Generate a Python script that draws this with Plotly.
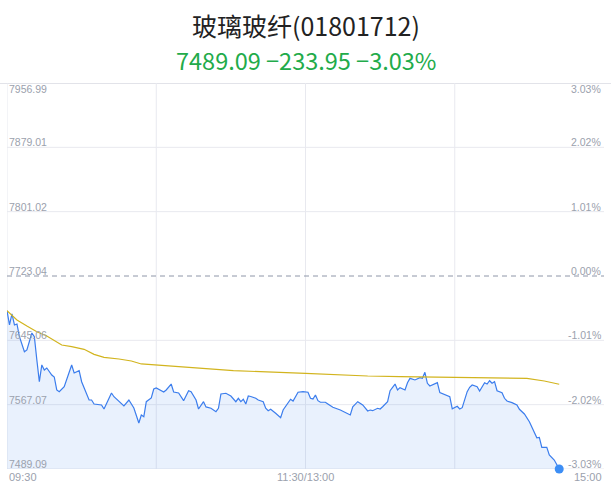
import plotly.graph_objects as go

# ---- data ----
title_text = "玻璃玻纤(01801712)"
subtitle_text = "7489.09 \u2212233.95 \u22123.03%"

prev_close = 7723.04
y_ticks = [7956.99, 7879.01, 7801.02, 7723.04, 7645.06, 7567.07, 7489.09]
pct_ticks = ["3.03%", "2.02%", "1.01%", "0.00%", "-1.01%", "-2.02%", "-3.03%"]
x_tick_pos = [0, 120, 240]
x_tick_labels = ["09:30", "11:30/13:00", "15:00"]

# minutes since 09:30 (lunch break removed)
price_min = [0, 1, 2, 3, 4, 5, 7, 8, 10, 11, 12, 13, 14, 15, 16, 18, 19, 20, 21, 23,
             26, 27, 29, 30, 33, 34, 35, 38, 39, 42, 43, 47, 49, 51, 53, 54, 55, 56, 58, 59,
             60, 63, 64, 66, 67, 69, 71, 73, 74, 76, 77, 79, 80, 82, 84, 85, 86, 88, 90, 92,
             93, 94, 95, 96, 97, 98, 100, 101, 103, 104, 105, 106, 108, 110, 111, 113, 114, 115, 117, 119,
             121, 122, 123, 124, 125, 126, 128, 129, 131, 134, 138, 139, 141, 143, 145, 146, 147, 149, 150, 151,
             153, 154, 156, 157, 158, 160, 161, 162, 164, 166, 167, 168, 169, 170, 173, 174, 177, 178, 179, 181,
             182, 183, 185, 186, 187, 189, 190, 192, 193, 194, 195, 196, 197, 199, 200, 201, 203, 205, 206, 208,
             210, 211, 213, 214, 215, 217, 218, 220, 222]
price_val = [7680.98, 7663.7, 7677.0, 7663.7, 7664.9, 7649.5, 7631.3, 7633.4, 7654.0, 7649.5,
             7621.2, 7594.9, 7615.2, 7609.1, 7611.5, 7603.0, 7600.6, 7584.9, 7582.8, 7588.9,
             7615.2, 7605.5, 7608.3, 7594.9, 7572.7, 7572.7, 7567.9, 7566.7, 7561.8, 7581.2,
             7576.7, 7565.5, 7572.7, 7563.0, 7544.9, 7554.6, 7552.5, 7570.7, 7575.2, 7586.1,
             7587.3, 7582.4, 7584.9, 7592.1, 7582.4, 7581.2, 7571.9, 7584.0, 7582.8, 7572.7,
             7561.8, 7570.7, 7564.3, 7562.7, 7558.6, 7562.7, 7580.0, 7580.9, 7577.6, 7570.7,
             7574.8, 7570.7, 7573.6, 7567.9, 7577.6, 7577.0, 7574.8, 7572.7, 7570.7, 7562.7,
             7559.8, 7561.5, 7556.6, 7551.3, 7560.6, 7568.7, 7573.6, 7571.5, 7582.1, 7582.8,
             7582.1, 7574.8, 7574.0, 7578.8, 7571.9, 7570.0, 7570.0, 7567.9, 7563.9, 7560.6,
             7554.6, 7564.6, 7570.7, 7566.7, 7559.4, 7560.6, 7559.8, 7562.7, 7561.8, 7564.6,
             7570.7, 7584.0, 7592.1, 7584.9, 7587.7, 7584.9, 7593.7, 7599.0, 7597.0, 7599.8,
             7599.0, 7606.3, 7593.0, 7589.7, 7593.7, 7581.6, 7577.6, 7576.7, 7562.1, 7565.1,
             7561.8, 7563.4, 7582.8, 7588.1, 7590.9, 7588.9, 7583.7, 7593.7, 7592.1, 7596.1,
             7593.0, 7594.9, 7584.0, 7581.6, 7574.8, 7571.5, 7569.5, 7566.7, 7561.5, 7555.8,
             7546.4, 7540.4, 7527.0, 7527.5, 7515.4, 7515.4, 7506.1, 7500.0, 7489.09]

avg_min = [0, 4, 8, 12, 16, 20, 22, 26, 31, 35, 39, 45, 50, 54, 59, 77, 91, 120, 145, 158,
           185, 209, 216, 222]
avg_val = [7681.0, 7669.7, 7662.4, 7655.5, 7650.3, 7643.4, 7639.4, 7637.4, 7634.2, 7628.1,
           7624.5, 7622.4, 7620.0, 7616.4, 7615.2, 7611.2, 7608.3, 7605.1, 7601.8, 7601.0,
           7600.3, 7599.0, 7595.8, 7591.8]

# ---- style ----
LINE_BLUE = "#3b7ded"
FILL_BLUE = "rgba(59,125,237,0.11)"
AVG_YELLOW = "#d2b41e"
GRID = "#e8e9ef"
LABEL = "#9ba1ad"
GREEN = "#22ab4a"
LABEL_FONT = "Liberation Sans, Arial, sans-serif"

W, H = 611, 492
MT, MB, ML, MR = 83, 23, 7, 7
PH = H - MT - MB


def paper_y(px):
    return (H - MB - px) / PH


fig = go.Figure()

fig.add_trace(go.Scatter(
    x=price_min, y=price_val, mode="lines",
    line=dict(color=LINE_BLUE, width=1.2),
    fill="tozeroy", fillcolor=FILL_BLUE, hoverinfo="skip", showlegend=False))

fig.add_trace(go.Scatter(
    x=avg_min, y=avg_val, mode="lines",
    line=dict(color=AVG_YELLOW, width=1.2), hoverinfo="skip", showlegend=False))

fig.add_trace(go.Scatter(
    x=[price_min[-1]], y=[price_val[-1]], mode="markers",
    marker=dict(color="#3d8ef5", size=9), hoverinfo="skip", showlegend=False, cliponaxis=False))

shapes = []
for v in y_ticks:
    if abs(v - prev_close) < 1e-6:
        shapes.append(dict(type="line", xref="paper", x0=0, x1=1, yref="y", y0=v, y1=v,
                           line=dict(color="#8e96a8", width=1, dash="5px,4px"), layer="above"))
    elif v == y_ticks[0]:
        shapes.append(dict(type="line", xref="paper", x0=-0.02, x1=1.02, yref="y", y0=v, y1=v,
                           line=dict(color="#e2e3e9", width=2), layer="below"))
    else:
        shapes.append(dict(type="line", xref="paper", x0=0, x1=1, yref="y", y0=v, y1=v,
                           line=dict(color=GRID, width=1), layer="below"))
for xv in [0, 60, 120, 180]:
    shapes.append(dict(type="line", xref="x", x0=xv, x1=xv, yref="paper", y0=0, y1=1,
                       line=dict(color=GRID, width=1), layer="below"))

annotations = []
for i, (v, p) in enumerate(zip(y_ticks, pct_ticks)):
    top = (i == 0)
    annotations.append(dict(x=0, xref="paper", y=v, yref="y", text=f"{v:.2f}",
                            xanchor="left", yanchor="top" if top else "bottom",
                            xshift=0, yshift=2 if top else -3, showarrow=False,
                            font=dict(family=LABEL_FONT, size=10.5, color=LABEL)))
    annotations.append(dict(x=1, xref="paper", y=v, yref="y", text=p,
                            xanchor="right", yanchor="top" if top else "bottom",
                            xshift=-1, yshift=2 if top else -3, showarrow=False,
                            font=dict(family=LABEL_FONT, size=10.5, color=LABEL)))
for xv, lab, an in zip(x_tick_pos, x_tick_labels, ["left", "center", "right"]):
    annotations.append(dict(x=xv, xref="x", y=0, yref="paper", text=lab,
                            xanchor=an, yanchor="top", yshift=0, showarrow=False,
                            font=dict(family=LABEL_FONT, size=11, color=LABEL)))
annotations.append(dict(x=0.5, xref="paper", y=paper_y(25), yref="paper", text=title_text,
                        xanchor="center", yanchor="middle", showarrow=False,
                        font=dict(family="Noto Sans CJK SC", size=25, color="#222222")))
annotations.append(dict(x=0.5, xref="paper", y=paper_y(60), yref="paper", text=subtitle_text,
                        xanchor="center", yanchor="middle", showarrow=False,
                        font=dict(family="Noto Sans CJK SC", size=23.5, color=GREEN)))

fig.update_layout(
    width=W, height=H,
    margin=dict(l=ML, r=MR, t=MT, b=MB, pad=0),
    paper_bgcolor="white", plot_bgcolor="white",
    shapes=shapes, annotations=annotations,
    xaxis=dict(range=[0, 240], showgrid=False, zeroline=False, showticklabels=False,
               showline=False, fixedrange=True),
    yaxis=dict(range=[y_ticks[-1], y_ticks[0]], showgrid=False, zeroline=False,
               showticklabels=False, showline=False, fixedrange=True),
    showlegend=False,
)

fig.write_html("out.html", config={"displayModeBar": False, "staticPlot": True},
               post_script="document.body.style.margin='0';document.body.style.overflow='hidden';")
